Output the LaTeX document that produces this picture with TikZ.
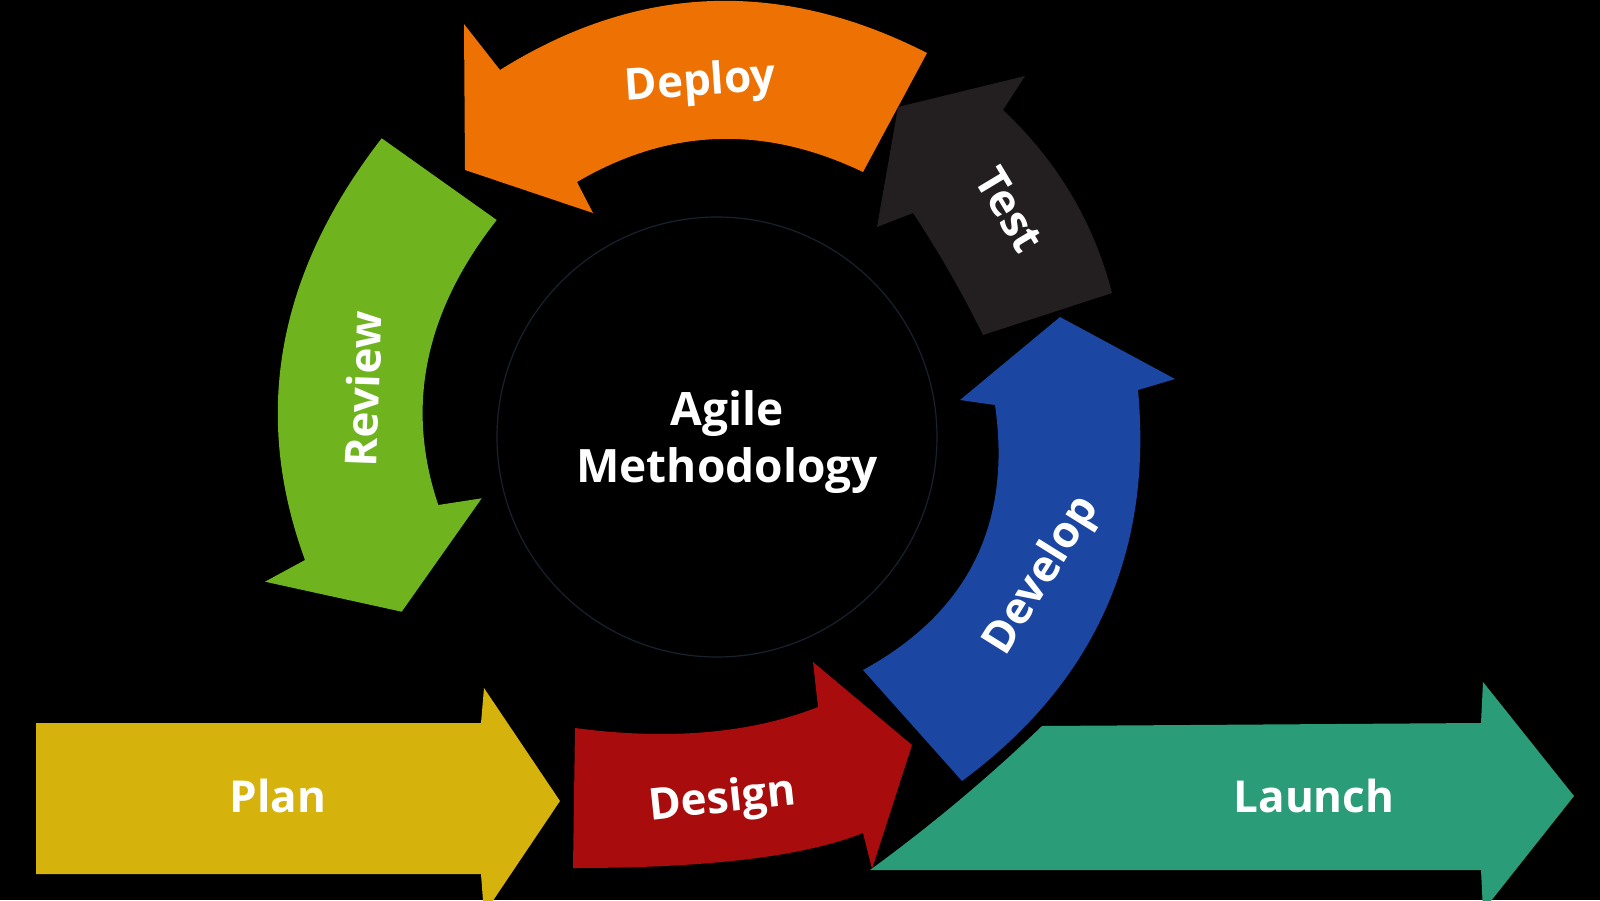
\documentclass[tikz,border=0pt]{standalone}
\usepackage{fontspec}
\setmainfont{Open Sans}
\definecolor{cDeploy}{HTML}{EE7203}
\definecolor{cTest}{HTML}{231F20}
\definecolor{cReview}{HTML}{6FB41F}
\definecolor{cDevelop}{HTML}{1B46A1}
\definecolor{cDesign}{HTML}{A80C0C}
\definecolor{cLaunch}{HTML}{2A9D78}
\definecolor{cPlan}{HTML}{D6B20C}
\definecolor{cRing}{HTML}{18222E}
\begin{document}
\begin{tikzpicture}[x=1pt,y=-1pt,
  lbl/.style={text=white, font=\bfseries\fontsize{44}{50}\selectfont, inner sep=0pt,
              text height=31pt, text depth=0pt},
  corestyle/.style={circle, fill=black, draw=cRing, line width=1.2pt, minimum size=440pt, inner sep=0pt},
  coretext/.style={text=white, align=center, font=\bfseries\fontsize{46}{57}\selectfont, inner sep=0pt}]
\fill[black] (0,0) rectangle (1600,900);
\useasboundingbox (0,0) rectangle (1600,900);

% Deploy (orange)
\fill[cDeploy] (927,53) .. controls (779.7,-22) and (637.3,-16) .. (500,70) -- (464,24) -- (465,170)
  -- (593,213) -- (577,182) .. controls (668.7,128) and (764.1,124.7) .. (863,172) -- cycle;
% Test (dark)
\fill[cTest] (877,227) -- (898,107) -- (1025,76) -- (1003,110)
  .. controls (1057.3,161) and (1093.7,222) .. (1112,293) -- (983,335)
  .. controls (962.3,293) and (939,252.3) .. (913,213) -- cycle;
% Review (green)
\fill[cReview] (381.7,138.3) -- (496.7,220) .. controls (424.6,311.7) and (405.1,406.7) .. (438.3,505)
  -- (481.7,498.3) -- (401.7,611.7) -- (265,581.7) -- (305,560)
  .. controls (251.4,413.9) and (277,273.3) .. (381.7,138.3) -- cycle;
% Develop (blue)
\fill[cDevelop] (1060,317) -- (1175,379) -- (1138,390) .. controls (1153.1,552.9) and (1094.4,683.2) .. (962,781)
  -- (863,670) .. controls (967.9,612.7) and (1012,524.4) .. (995,405) -- (960,400) -- cycle;
% Launch (teal)
\fill[cLaunch] (870,870) .. controls (931.3,825.3) and (988.7,777.3) .. (1042,726) -- (1481,723) -- (1483,682)
  -- (1574,796) -- (1483,911) -- (1481,870) -- cycle;
% Design (red)
\fill[cDesign] (575,728) .. controls (680,742) and (760,730) .. (818,707) -- (813,662)
  -- (912,745) -- (872,869) -- (863,833) .. controls (800,858) and (700,868) .. (573,868) -- cycle;
% Plan (yellow)
\fill[cPlan] (36,723) -- (481,723) -- (484,688) -- (560,801) -- (484,914) -- (481,874)
  -- (36,874) -- cycle;

% centre
\node[corestyle] (core) at (717,437) {};
\node[coretext] (coretxt) at (727,442) {Agile\\Methodology};

% labels
\node[lbl] (plan) at (278,797) {Plan};
\node[lbl, rotate=6] (design) at (722,797) {Design};
\node[lbl] (launch) at (1314,797) {Launch};
\node[lbl, rotate=4] (deploy) at (700,80) {Deploy};
\node[lbl, rotate=-59] (test) at (1010,210) {Test};
\node[lbl, rotate=88] (review) at (364,389) {Review};
\node[lbl, rotate=58] (develop) at (1039,574) {Develop};
\end{tikzpicture}
\end{document}
